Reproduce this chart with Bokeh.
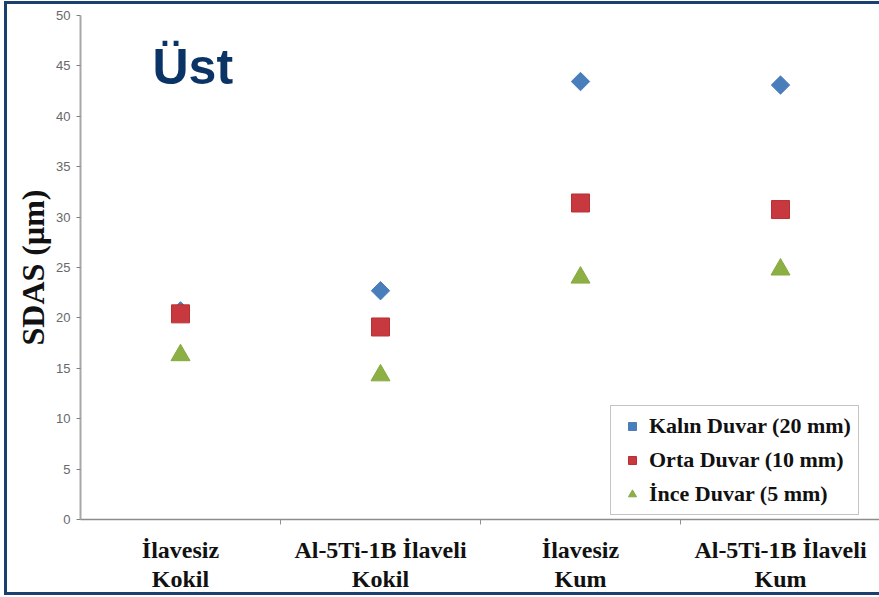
import numpy as np
from bokeh.plotting import figure
from bokeh.models import FixedTicker, Range1d, Legend, LegendItem, Label
from bokeh.embed import file_html
from bokeh.resources import INLINE

# ---- data ----
categories = ["İlavesiz\nKokil", "Al-5Ti-1B İlaveli\nKokil", "İlavesiz\nKum", "Al-5Ti-1B İlaveli\nKum"]
kalin_duvar = [20.7, 22.7, 43.45, 43.1]
orta_duvar = [20.4, 19.1, 31.4, 30.75]
ince_duvar = [16.3, 14.3, 24.0, 24.8]
series_names = ["Kalın Duvar (20 mm)", "Orta Duvar (10 mm)", "İnce Duvar (5 mm)"]
y_ticks = [0, 5, 10, 15, 20, 25, 30, 35, 40, 45, 50]
title_text = "Üst"
y_label = "SDAS (μm)"

x_pos = np.arange(len(categories)) + 0.5
boundaries = list(np.arange(1, len(categories)))

FRAME = "#1B3F6E"
SERIF = "Liberation Serif"

p = figure(width=875, height=594, output_backend="svg", toolbar_location=None,
           x_range=Range1d(0, 4.01), y_range=Range1d(0, 50),
           min_border_left=73, min_border_top=11, min_border_bottom=79, min_border_right=0)
p.styles = {"border-left": f"3px solid {FRAME}", "border-top": f"3px solid {FRAME}",
            "border-bottom": f"3px solid {FRAME}", "margin-left": "4px", "margin-top": "1px"}
p.outline_line_color = None
p.xgrid.visible = False
p.ygrid.visible = False
p.background_fill_color = "white"
p.border_fill_color = "white"

r1 = p.scatter(x_pos, kalin_duvar, marker="square", angle=np.pi / 4, size=13,
               fill_color="#4A7EBB", line_color="#4A7EBB")
r2 = p.scatter(x_pos, orta_duvar, marker="square", size=18,
               fill_color="#C8393F", line_color="#B83035")
r3 = p.scatter(x_pos, ince_duvar, marker="triangle", size=19,
               fill_color="#8DB045", line_color="#86A842")

# y axis
ya = p.yaxis[0]
ya.ticker = FixedTicker(ticks=y_ticks)
ya.axis_label = y_label
ya.axis_label_text_font = SERIF
ya.axis_label_text_font_style = "bold"
ya.axis_label_text_font_size = "32px"
ya.axis_label_text_color = "#111111"
ya.axis_label_standoff = 2
ya.major_label_text_font = "Liberation Sans"
ya.major_label_text_font_size = "13px"
ya.major_label_text_color = "#686868"
ya.major_label_standoff = 6
ya.axis_line_color = "#A8A8A8"
ya.axis_line_width = 2
ya.major_tick_line_color = "#808080"
ya.major_tick_out = 4
ya.major_tick_in = 0
ya.minor_tick_line_color = None

# x axis
xa = p.xaxis[0]
xa.ticker = FixedTicker(ticks=list(x_pos), minor_ticks=boundaries)
xa.major_label_overrides = {float(x): c for x, c in zip(x_pos, categories)}
xa.major_label_text_font = SERIF
xa.major_label_text_font_style = "bold"
xa.major_label_text_font_size = "24px"
xa.major_label_text_color = "#111111"
xa.major_label_text_line_height = 1.15
xa.major_label_standoff = 12
xa.major_tick_in = 0
xa.major_tick_out = 0
xa.major_tick_line_color = None
xa.minor_tick_in = 0
xa.minor_tick_out = 5
xa.minor_tick_line_color = "#909090"
xa.axis_line_color = "#8C8C8C"
xa.axis_line_width = 1.5

# title text
p.add_layout(Label(x=0.36, y=44.85, text=title_text, text_font="Liberation Sans",
                   text_font_style="bold", text_font_size="50px", text_color="#0B3466",
                   text_baseline="alphabetic"))

legend = Legend(items=[LegendItem(label=series_names[0], renderers=[r1]),
                       LegendItem(label=series_names[1], renderers=[r2]),
                       LegendItem(label=series_names[2], renderers=[r3])],
                location=(530, 4))
legend.label_text_font = SERIF
legend.label_text_font_style = "bold"
legend.label_text_font_size = "22px"
legend.label_text_color = "#111111"
legend.border_line_color = "#8A8A8A"
legend.border_line_width = 1
legend.padding = 7
legend.spacing = 8
legend.glyph_width = 28
legend.label_standoff = 3
legend.margin = 0
legend.background_fill_color = "white"
legend.background_fill_alpha = 1.0
p.add_layout(legend)

open("out.html", "w").write(file_html(p, INLINE))
